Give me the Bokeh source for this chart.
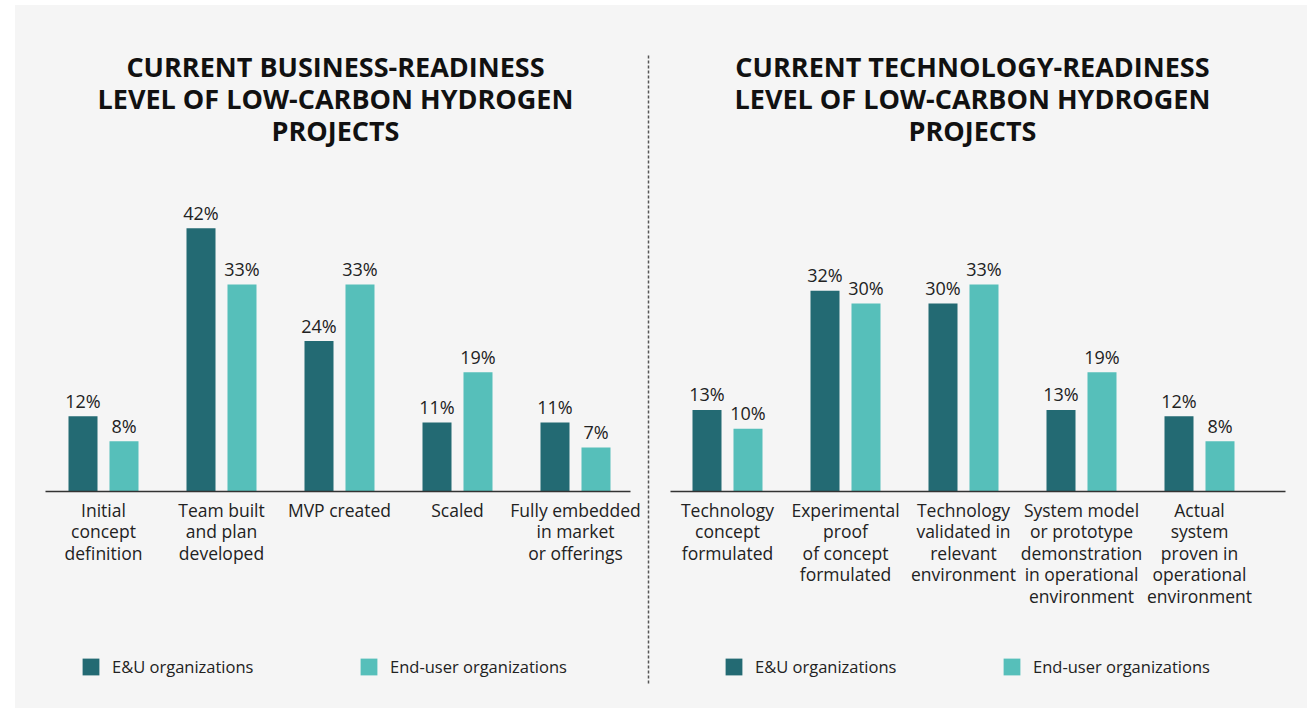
import numpy as np
from bokeh.plotting import figure
from bokeh.models import Legend, LegendItem, Spacer
from bokeh.layouts import row, column
from bokeh.core.properties import value
from bokeh.embed import file_html
from bokeh.resources import INLINE

# ---- data ----
business_categories = [
    "Initial\nconcept\ndefinition",
    "Team built\nand plan\ndeveloped",
    "MVP created",
    "Scaled",
    "Fully embedded\nin market\nor offerings",
]
business_eu = [12, 42, 24, 11, 11]
business_end = [8, 33, 33, 19, 7]

tech_categories = [
    "Technology\nconcept\nformulated",
    "Experimental\nproof\nof concept\nformulated",
    "Technology\nvalidated in\nrelevant\nenvironment",
    "System model\nor prototype\ndemonstration\nin operational\nenvironment",
    "Actual\nsystem\nproven in\noperational\nenvironment",
]
tech_eu = [13, 32, 30, 13, 12]
tech_end = [10, 30, 33, 19, 8]

series_names = ["E&U organizations", "End-user organizations"]
titles = [
    "CURRENT BUSINESS-READINESS\nLEVEL OF LOW-CARBON HYDROGEN\nPROJECTS",
    "CURRENT TECHNOLOGY-READINESS\nLEVEL OF LOW-CARBON HYDROGEN\nPROJECTS",
]

# ---- style ----
DARK = "#236a73"
LIGHT = "#56bfba"
BG = "#f5f5f5"
TXT = "#222222"
FONT = "Open Sans"
H = 703
PXU = 6.27
Y_RANGE = (-217 / PXU, 486 / PXU)
OFF = 0.1737
BW = 0.2458


def panel(title, cats, eu, end, width, x_start, base, title_x, legend_x, sep_x=None):
    px_per_unit = 118.0
    x_end = x_start + width / px_per_unit
    p = figure(width=width, height=H, x_range=(x_start, x_end), y_range=Y_RANGE,
               output_backend="svg", toolbar_location=None,
               x_axis_location=None, y_axis_location=None, min_border=0,
               background_fill_color=BG, border_fill_color=BG, outline_line_color=None)
    p.grid.visible = False
    idx = np.arange(len(cats))
    r1 = p.vbar(x=idx - OFF, top=eu, width=BW, bottom=0, fill_color=DARK, line_color=None)
    r2 = p.vbar(x=idx + OFF, top=end, width=BW, bottom=0, fill_color=LIGHT, line_color=None)
    p.segment(x0=[base[0]], x1=[base[1]], y0=[0], y1=[0], line_color="#333333", line_width=1.5)
    for xs, vals in ((idx - OFF, eu), (idx + OFF, end)):
        p.text(x=xs, y=vals, text=[f"{v}%" for v in vals], text_align="center",
               text_baseline="bottom", y_offset=-3.5, text_font=value(FONT),
               text_font_size="18px", text_color=TXT)
    p.text(x=idx, y=[0] * len(cats), text=cats, text_align="center", text_baseline="top",
           y_offset=6.5, text_font=value(FONT), text_font_size="17.5px", text_color=TXT,
           text_line_height=0.895)
    p.text(x=[title_x], y=[(491 - 47.5) / PXU], text=[title], text_align="center",
           text_baseline="top", text_font=value(FONT), text_font_size="27px",
           text_font_style="bold", text_color="#111111", text_line_height=0.862)
    if sep_x is not None:
        p.segment(x0=[sep_x], x1=[sep_x], y0=[(491 - 55) / PXU], y1=[-(685 - 491) / PXU],
                  line_color="#555555", line_width=1.5, line_dash="3 2")
    legend = Legend(items=[LegendItem(label=series_names[0], renderers=[r1]),
                           LegendItem(label=series_names[1], renderers=[r2])],
                    orientation="horizontal", location=(legend_x, 30),
                    glyph_width=21, glyph_height=21, label_height=21, label_width=246,
                    label_standoff=11, spacing=0, padding=0, margin=0,
                    label_text_font=FONT, label_text_font_size="16.5px",
                    label_text_color=TXT, border_line_color=None,
                    background_fill_alpha=0)
    p.add_layout(legend)
    return p


p1 = panel(titles[0], business_categories, business_eu, business_end, 637,
           (15 - 103) / 118, ((45 - 103) / 118, (630 - 103) / 118), 1.966, 65,
           sep_x=(648 - 103) / 118)
p2 = panel(titles[1], tech_categories, tech_eu, tech_end, 655,
           (652 - 727) / 118, ((670 - 727) / 118, (1285 - 727) / 118), 2.076, 71)

charts = row(p1, p2, styles={"background-color": BG})
layout = column(Spacer(width=1300, height=5),
                row(Spacer(width=15, height=H), charts))
open("out.html", "w").write(file_html(layout, INLINE))
